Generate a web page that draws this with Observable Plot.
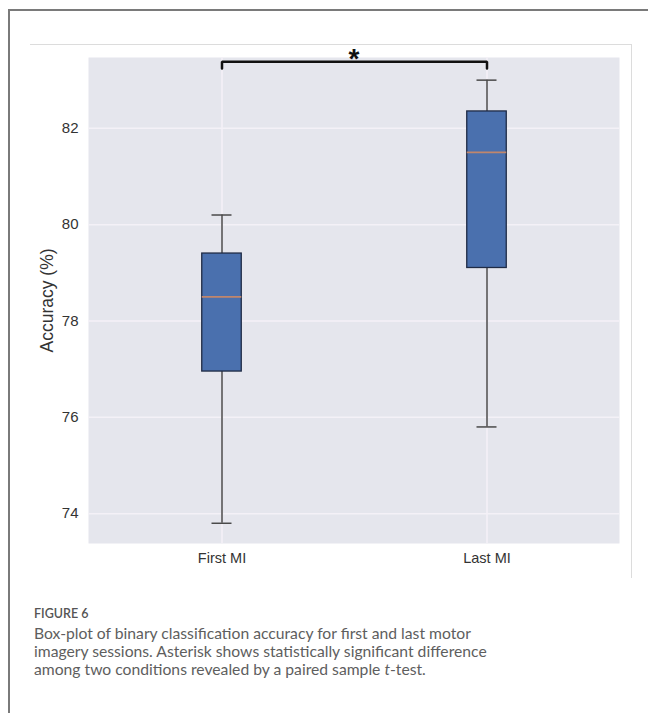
<!DOCTYPE html>
<html>
<head>
<meta charset="utf-8">
<script src="https://cdn.jsdelivr.net/npm/d3@7"></script>
<script src="https://cdn.jsdelivr.net/npm/@observablehq/plot@0.6"></script>
<style>
  html, body { margin: 0; padding: 0; background: #fff; }
  body { width: 648px; height: 713px; position: relative; overflow: hidden; }
  #frame { position: absolute; left: 8px; top: 9px; width: 700px; height: 760px;
           border-left: 2px solid #7a7a7a; border-top: 2px solid #7a7a7a; }
  #figtop { position: absolute; left: 30px; top: 44px; width: 601px; height: 0;
            border-top: 1px solid #dcdcdc; }
  #figright { position: absolute; left: 631px; top: 44px; width: 0; height: 534px;
              border-left: 1px solid #dcdcdc; }
  #chart { position: absolute; left: 0; top: 0; }
  #caption { position: absolute; left: 34px; top: 604px; width: 610px; white-space: nowrap;
             font-family: Lato, "Open Sans", sans-serif; color: #5e5e5e; }
  #caption .fig { font-size: 12.5px; font-weight: 600; color: #555; line-height: 20px; }
  #caption .txt { font-size: 15.7px; line-height: 18px; }
</style>
</head>
<body>
<div id="frame"></div>
<div id="figtop"></div>
<div id="figright"></div>
<div id="chart"></div>
<div id="caption">
  <div class="fig">FIGURE 6</div>
  <div class="txt">Box-plot of binary classification accuracy for first and last motor<br>imagery sessions. Asterisk shows statistically significant difference<br>among two conditions revealed by a paired sample <i>t</i>-test.</div>
</div>
<script>
// Data
const conditions = ["First MI", "Last MI"];
const whiskerLow = [73.8, 75.8];
const q1 = [76.95, 79.1];
const median = [78.5, 81.5];
const q3 = [79.4, 82.35];
const whiskerHigh = [80.2, 83.0];
const yTicks = [74, 76, 78, 80, 82];
const bracketY = 83.38;
const bracketFoot = 83.24;
const significance = "*";

const boxes = conditions.map((c, i) => ({
  cond: c, lo: whiskerLow[i], q1: q1[i], med: median[i], q3: q3[i], hi: whiskerHigh[i]
}));

const bracket = [
  {cond: conditions[0], y: bracketFoot},
  {cond: conditions[0], y: bracketY},
  {cond: conditions[1], y: bracketY},
  {cond: conditions[1], y: bracketFoot}
];

const gridColor = "#f4f1f7";
const bg = "#e5e6ed";

const plot = Plot.plot({
  width: 648,
  height: 590,
  marginLeft: 88,
  marginRight: 29,
  marginTop: 57,
  marginBottom: 47,
  style: {background: "transparent", fontFamily: "'Liberation Sans', Arial, sans-serif", fontSize: "15px", color: "#333"},
  x: {domain: conditions, padding: 0, label: null},
  y: {domain: [73.38, 83.47], label: null},
  marks: [
    Plot.frame({fill: bg, stroke: null}),
    Plot.gridY(yTicks, {stroke: gridColor, strokeOpacity: 1, strokeWidth: 1.5}),
    Plot.gridX(conditions, {stroke: gridColor, strokeOpacity: 1, strokeWidth: 1.5}),
    Plot.axisY(yTicks, {tickSize: 0, tickPadding: 10, fontSize: 15, fill: "#333", label: null}),
    Plot.axisX({tickSize: 0, tickPadding: 9, fontSize: 14.5, fill: "#333", label: null}),
    Plot.text(["Accuracy (%)"], {frameAnchor: "left", dx: -41, rotate: -90, fontSize: 17.5, fill: "#333", textAnchor: "middle"}),
    // whiskers
    Plot.ruleX(boxes, {x: "cond", y1: "q3", y2: "hi", stroke: "#4a4a4a", strokeWidth: 1.5}),
    Plot.ruleX(boxes, {x: "cond", y1: "lo", y2: "q1", stroke: "#4a4a4a", strokeWidth: 1.5}),
    Plot.tickY(boxes, {x: "cond", y: "hi", stroke: "#4a4a4a", strokeWidth: 1.5, insetLeft: 122.5, insetRight: 122.5}),
    Plot.tickY(boxes, {x: "cond", y: "lo", stroke: "#4a4a4a", strokeWidth: 1.5, insetLeft: 122.5, insetRight: 122.5}),
    // boxes
    Plot.barY(boxes, {x: "cond", y1: "q1", y2: "q3", fill: "#4a70ae", stroke: "#1f2b45", strokeWidth: 1.3, insetLeft: 112.75, insetRight: 112.75}),
    Plot.tickY(boxes, {x: "cond", y: "med", stroke: "#c0866c", strokeWidth: 1.8, insetLeft: 112.75, insetRight: 112.75}),
    // significance bracket
    Plot.line(bracket, {x: "cond", y: "y", stroke: "#111", strokeWidth: 2.5, strokeLinejoin: "miter"}),
    Plot.text([significance], {y: () => bracketY, frameAnchor: "middle", lineAnchor: "middle", dy: -3, fontSize: 28, fontWeight: "bold", fill: "#111"})
  ]
});
document.getElementById("chart").appendChild(plot);
</script>
</body>
</html>
